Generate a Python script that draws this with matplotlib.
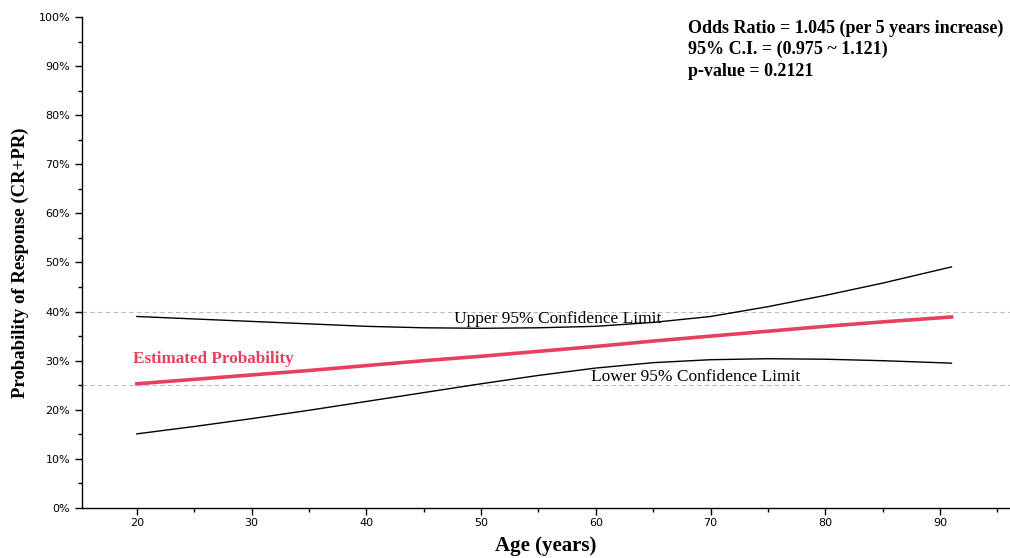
import matplotlib
matplotlib.use("Agg")
import matplotlib.pyplot as plt
from matplotlib.ticker import MultipleLocator, FuncFormatter

# --- Data (probabilities in %) ---
ages = [20, 25, 30, 35, 40, 45, 50, 55, 60, 65, 70, 75, 80, 85, 91]
estimated = [25.3, 26.2, 27.1, 28.0, 29.0, 30.0, 30.9, 31.9, 32.9, 34.0, 35.0, 36.0, 37.0, 37.9, 38.9]
upper_ci = [39.0, 38.5, 38.0, 37.5, 37.0, 36.7, 36.6, 36.7, 37.0, 37.8, 39.0, 41.0, 43.3, 45.8, 49.1]
lower_ci = [15.1, 16.6, 18.2, 19.9, 21.7, 23.5, 25.3, 27.0, 28.5, 29.6, 30.2, 30.4, 30.3, 30.0, 29.5]
ref_lines = [40, 25]

stats_text = ["Odds Ratio = 1.045 (per 5 years increase)",
              "95% C.I. = (0.975 ~ 1.121)",
              "p-value = 0.2121"]

serif = "Liberation Serif"
red = "#e5405e"

fig = plt.figure(figsize=(10.1, 5.58), dpi=100)
ax = fig.add_axes([0.081, 0.0896, 0.919, 0.88])

# dashed reference lines
for r in ref_lines:
    ax.axhline(r, color="#bbbbbb", linestyle=(0, (4, 3)), linewidth=0.8, zorder=1)

ax.plot(ages, upper_ci, color="black", linewidth=1.0, zorder=2)
ax.plot(ages, lower_ci, color="black", linewidth=1.0, zorder=2)
ax.plot(ages, estimated, color=red, linewidth=2.6, zorder=3)

ax.set_xlim(15.2, 96.1)
ax.set_ylim(0, 100)

ax.xaxis.set_major_locator(MultipleLocator(10))
ax.xaxis.set_minor_locator(MultipleLocator(5))
ax.yaxis.set_major_locator(MultipleLocator(10))
ax.yaxis.set_minor_locator(MultipleLocator(5))
ax.yaxis.set_major_formatter(FuncFormatter(lambda v, p: f"{int(v)}%"))
ax.tick_params(axis="both", which="major", length=5, width=1, labelsize=8, colors="black")
ax.tick_params(axis="x", which="major", pad=2)
ax.tick_params(axis="both", which="minor", length=3, width=1)

for s in ["top", "right"]:
    ax.spines[s].set_visible(False)
for s in ["left", "bottom"]:
    ax.spines[s].set_linewidth(1.0)

ax.set_xlabel("Age (years)", family=serif, fontsize=15, fontweight="bold", labelpad=6)
ax.set_ylabel("Probability of Response (CR+PR)", family=serif, fontsize=13.5,
              fontweight="bold", labelpad=7)

# labels on the curves
ax.text(56.7, 38.4, "Upper 95% Confidence Limit", family=serif, fontsize=12.5,
        ha="center", va="center")
ax.text(68.7, 26.6, "Lower 95% Confidence Limit", family=serif, fontsize=12.5,
        ha="center", va="center")
ax.text(19.7, 30.3, "Estimated Probability", family=serif, fontsize=12.3,
        fontweight="bold", color=red, ha="left", va="center")

# statistics block, top right
for i, line in enumerate(stats_text):
    fig.text(0.681, 0.95 - i * 0.039, line, family=serif, fontsize=13,
             fontweight="bold", ha="left", va="center")

fig.savefig("out.png", dpi=100)
